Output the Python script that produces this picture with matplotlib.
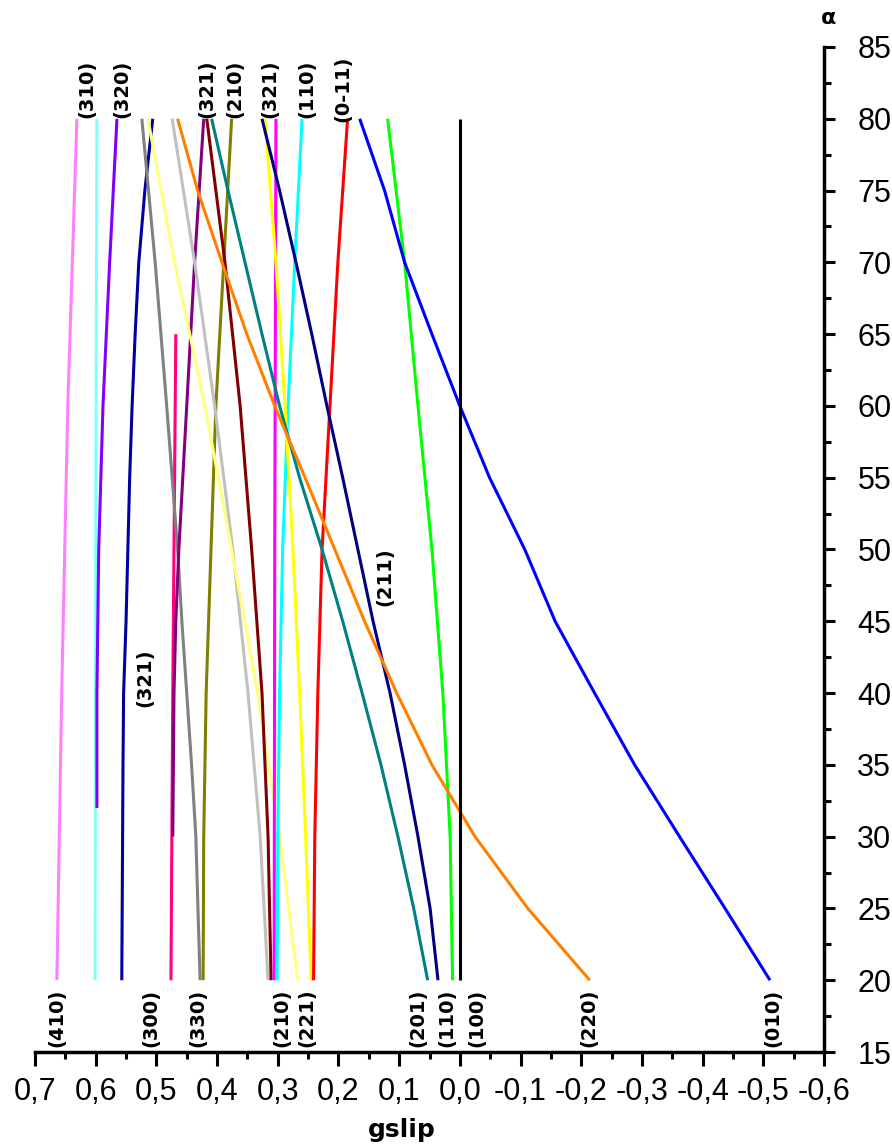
import matplotlib
matplotlib.use("Agg")
import matplotlib.pyplot as plt
from matplotlib.ticker import MultipleLocator, FuncFormatter

# angle grids (deg)
alpha_13 = [20, 25, 30, 35, 40, 45, 50, 55, 60, 65, 70, 75, 80]
alpha_7 = [20, 30, 40, 50, 60, 70, 80]

# gslip values
pink_a = [20, 40, 60, 80]
pink_v = [0.664, 0.656, 0.646, 0.631]
lcyan_a = [20, 50, 80]
lcyan_v = [0.601, 0.600, 0.598]
violet_a = [32, 40, 50, 60, 70, 80]
violet_v = [0.598, 0.598, 0.595, 0.588, 0.577, 0.565]
dblue_a = [20, 35, 40, 45, 50, 55, 60, 65, 70, 75, 80]
dblue_v = [0.557, 0.555, 0.554, 0.550, 0.547, 0.544, 0.540, 0.535, 0.529, 0.519, 0.506]
hotpink_a = [20, 40, 65]
hotpink_v = [0.476, 0.473, 0.468]
gray_a = [20, 30, 35, 40, 45, 50, 60, 70, 80]
gray_v = [0.428, 0.435, 0.442, 0.450, 0.458, 0.465, 0.483, 0.502, 0.524]
olive_v = [0.423, 0.422, 0.418, 0.410, 0.402, 0.389, 0.376]
purple_a = [30, 40, 45, 50, 60, 70, 80]
purple_v = [0.473, 0.471, 0.468, 0.463, 0.450, 0.437, 0.422]
lgray_v = [0.316, 0.329, 0.349, 0.374, 0.404, 0.437, 0.474]
lyellow_v = [0.267, 0.297, 0.333, 0.376, 0.420, 0.470, 0.514]
brown_v = [0.311, 0.316, 0.326, 0.343, 0.362, 0.387, 0.417]
magenta_a = [20, 50, 80]
magenta_v = [0.306, 0.305, 0.303]
cyan_v = [0.301, 0.300, 0.297, 0.292, 0.283, 0.272, 0.260]
yellow_v = [0.245, 0.254, 0.264, 0.275, 0.288, 0.303, 0.321]
red_v = [0.241, 0.239, 0.234, 0.227, 0.214, 0.201, 0.185]
green_v = [0.012, 0.016, 0.028, 0.046, 0.069, 0.091, 0.119]
teal_v = [0.053, 0.076, 0.102, 0.130, 0.161, 0.193, 0.227, 0.264, 0.297,
          0.326, 0.354, 0.382, 0.409]
navy_v = [0.036, 0.049, 0.069, 0.091, 0.115, 0.143, 0.168, 0.193, 0.219,
          0.244, 0.270, 0.297, 0.326]
orange_v = [-0.214, -0.112, -0.025, 0.046, 0.104, 0.157, 0.206, 0.255, 0.305,
            0.351, 0.392, 0.432, 0.465]
blue_v = [-0.511, -0.437, -0.362, -0.288, -0.222, -0.157, -0.107, -0.049, 0.000,
          0.046, 0.091, 0.124, 0.165]
black_a = [20, 80]
black_v = [0.0, 0.0]

series = [
    ("#ff80ff", pink_a, pink_v),
    ("#80ffff", lcyan_a, lcyan_v),
    ("#8000ff", violet_a, violet_v),
    ("#0000a0", dblue_a, dblue_v),
    ("#ff0080", hotpink_a, hotpink_v),
    ("#808080", gray_a, gray_v),
    ("#808000", alpha_7, olive_v),
    ("#800080", purple_a, purple_v),
    ("#c0c0c0", alpha_7, lgray_v),
    ("#ffff80", alpha_7, lyellow_v),
    ("#800000", alpha_7, brown_v),
    ("#ff00ff", magenta_a, magenta_v),
    ("#00ffff", alpha_7, cyan_v),
    ("#ffff00", alpha_7, yellow_v),
    ("#ff0000", alpha_7, red_v),
    ("#00ff00", alpha_7, green_v),
    ("#008080", alpha_13, teal_v),
    ("#000080", alpha_13, navy_v),
    ("#ff8000", alpha_13, orange_v),
    ("#0000ff", alpha_13, blue_v),
    ("#000000", black_a, black_v),
]

# plane labels (rotated) and where they sit
top_labels = ["(310)", "(320)", "(321)", "(210)", "(321)", "(110)", "(0-11)"]
top_x = [0.615, 0.557, 0.417, 0.371, 0.313, 0.252, 0.193]
bottom_labels = ["(410)", "(300)", "(330)", "(210)", "(221)", "(201)", "(110)",
                 "(100)", "(220)", "(010)"]
bottom_x = [0.664, 0.509, 0.432, 0.293, 0.252, 0.069, 0.021, -0.028, -0.212, -0.515]
mid_labels = ["(211)", "(321)"]
mid_x = [0.124, 0.519]
mid_y = [48.1, 41.1]

fig = plt.figure(figsize=(8.92, 11.45), dpi=100)
ax = fig.add_axes([35 / 892, 93 / 1145, 789 / 892, 1005 / 1145])

for color, a, v in series:
    ax.plot(v, a, color=color, linewidth=2.2, solid_capstyle="butt")

for lab, x in zip(top_labels, top_x):
    ax.text(x, 82.1, lab, rotation=90, ha="center", va="center",
            fontsize=14, fontweight="bold")
for lab, x in zip(bottom_labels, bottom_x):
    ax.text(x, 17.4, lab, rotation=90, ha="center", va="center",
            fontsize=14, fontweight="bold")
for lab, x, y in zip(mid_labels, mid_x, mid_y):
    ax.text(x, y, lab, rotation=90, ha="center", va="center",
            fontsize=14, fontweight="bold")

ax.set_xlim(0.7, -0.6)
ax.set_ylim(15, 85)
ax.xaxis.set_major_locator(MultipleLocator(0.1))
ax.xaxis.set_minor_locator(MultipleLocator(0.05))
ax.yaxis.set_major_locator(MultipleLocator(5))
ax.yaxis.set_minor_locator(MultipleLocator(2.5))
ax.xaxis.set_major_formatter(
    FuncFormatter(lambda v, p: f"{v:.1f}".replace(".", ",").replace("-0,0", "0,0")))
ax.yaxis.tick_right()

for side in ["left", "top"]:
    ax.spines[side].set_visible(False)
for side in ["bottom", "right"]:
    ax.spines[side].set_linewidth(2.5)

ax.tick_params(axis="x", which="major", direction="out", length=10, width=2.2, pad=8)
ax.tick_params(axis="x", which="minor", direction="out", length=5, width=2.2)
ax.tick_params(axis="y", which="major", direction="out", length=8, width=2.2, pad=16)
ax.tick_params(axis="y", which="minor", direction="out", length=5, width=2.2)
for lbl in ax.get_xticklabels() + ax.get_yticklabels():
    lbl.set_family("Liberation Sans")
    lbl.set_fontsize(22)

fig.text(828 / 892, 1 - 18 / 1145, "α", ha="center", va="center", fontsize=16,
         fontweight="bold")
fig.text(402 / 892, 1 - 1130 / 1145, "gslip", ha="center", va="center",
         fontsize=18, fontweight="bold")

fig.savefig("out.png", dpi=100)
